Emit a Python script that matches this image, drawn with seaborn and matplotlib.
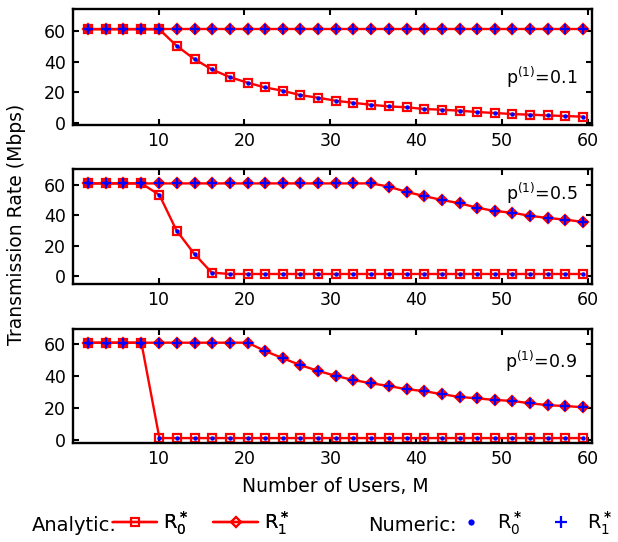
import matplotlib
matplotlib.use("Agg")
import matplotlib.pyplot as plt
from matplotlib.lines import Line2D
import seaborn as sns
import pandas as pd

# ---------------- data ----------------
users_m = [1.8, 3.9, 5.9, 8.0, 10.1, 12.1, 14.2, 16.2, 18.3, 20.4, 22.4, 24.5, 26.5, 28.6, 30.7,
           32.7, 34.8, 36.8, 38.9, 40.9, 43.0, 45.1, 47.1, 49.2, 51.2, 53.3, 55.4, 57.4, 59.5]

p_labels = ["0.1", "0.5", "0.9"]

r0_p01 = [61, 61, 61, 61, 61, 50.3, 41.6, 35.0, 30.0, 26.3, 23.3, 21.1, 18.3, 16.6, 14.6,
          13.3, 12.0, 11.0, 10.4, 9.3, 8.8, 8.2, 7.3, 6.7, 6.0, 5.6, 5.1, 4.7, 4.3]
r1_p01 = [61, 61, 61, 61, 61, 61, 61, 61, 61, 61, 61, 61, 61, 61, 61,
          61, 61, 61, 61, 61, 61, 61, 61, 61, 61, 61, 61, 61, 61]

r0_p05 = [61, 61, 61, 61, 53.4, 29.9, 14.3, 2.2, 1.3, 1.3, 1.3, 1.3, 1.3, 1.3, 1.3,
          1.3, 1.3, 1.3, 1.3, 1.3, 1.3, 1.3, 1.3, 1.3, 1.3, 1.3, 1.3, 1.3, 1.3]
r1_p05 = [61, 61, 61, 61, 61, 61, 61, 61, 61, 61, 61, 61, 61, 61, 61,
          61, 61, 58.9, 55.4, 52.7, 50.1, 47.9, 45.0, 42.8, 41.7, 39.6, 38.2, 37.1, 35.6]

r0_p09 = [61, 61, 61, 61, 1.2, 1.2, 1.2, 1.2, 1.2, 1.2, 1.2, 1.2, 1.2, 1.2, 1.2,
          1.2, 1.2, 1.2, 1.2, 1.2, 1.2, 1.2, 1.2, 1.2, 1.2, 1.2, 1.2, 1.2, 1.2]
r1_p09 = [61, 61, 61, 61, 61, 61, 61, 61, 61, 61, 55.8, 51.2, 47.0, 43.3, 40.1,
          37.6, 35.5, 33.9, 31.8, 30.7, 28.7, 27.0, 26.1, 25.1, 24.5, 23.0, 21.8, 21.3, 20.5]

x_ticks = [10, 20, 30, 40, 50, 60]
y_ticks = [0, 20, 40, 60]

panels = [(r0_p01, r1_p01), (r0_p05, r1_p05), (r0_p09, r1_p09)]

# ---------------- style ----------------
sns.set_theme(style="white")
plt.rcParams["font.family"] = ["DejaVu Sans"]
plt.rcParams["mathtext.fontset"] = "dejavusans"
plt.rcParams["text.color"] = "black"
plt.rcParams["axes.labelcolor"] = "black"
plt.rcParams["xtick.color"] = "black"
plt.rcParams["ytick.color"] = "black"

RED = (1.0, 0.0, 0.0)
BLUE = (0.0, 0.0, 1.0)

fig = plt.figure(figsize=(6.18, 5.42), dpi=100)
W, H = 618.0, 542.0
left, right = 72.7, 592.0
rows = [(9.3, 125.0), (169.3, 284.0), (329.3, 442.7)]
ylims = [(-1.1, 74.0), (-5.3, 70.3), (-1.7, 69.4)]
ann_y = [25.9, 50.1, 45.0]

for i, ((r0, r1), (top, bot)) in enumerate(zip(panels, rows)):
    ax = fig.add_axes([left / W, 1 - bot / H, (right - left) / W, (bot - top) / H])
    df = pd.DataFrame({"M": users_m, "R0": r0, "R1": r1})
    # analytic curves
    sns.lineplot(data=df, x="M", y="R0", ax=ax, color=RED, lw=1.7, marker="s",
                 markersize=6, markerfacecolor="none", markeredgecolor=RED,
                 markeredgewidth=1.6, estimator=None, legend=False, zorder=2)
    ax.lines[-1].set_markerfacecolor("none")
    sns.lineplot(data=df, x="M", y="R1", ax=ax, color=RED, lw=1.7, marker="D",
                 markersize=5.5, markeredgecolor=RED,
                 markeredgewidth=1.6, estimator=None, legend=False, zorder=3)
    ax.lines[-1].set_markerfacecolor((0.8, 0.1, 0.4))
    ax.lines[-1].set_markeredgecolor(RED)
    # numeric points
    sns.lineplot(data=df, x="M", y="R0", ax=ax, color=BLUE, linestyle="", marker="o",
                 markersize=3.2, markeredgewidth=0, estimator=None, legend=False, zorder=4)
    sns.lineplot(data=df, x="M", y="R1", ax=ax, color=BLUE, linestyle="", marker="+",
                 markersize=7, markeredgewidth=1.6, estimator=None, legend=False, zorder=5)
    ax.lines[-1].set_markeredgecolor(BLUE)

    ax.set_xlim(0, 60.5)
    ax.set_ylim(*ylims[i])
    ax.set_xticks(x_ticks)
    ax.set_yticks(y_ticks)
    ax.set_xlabel("")
    ax.set_ylabel("")
    ax.tick_params(direction="in", length=4, width=1.5, labelsize=12.5, pad=5,
                   top=True, right=True, bottom=True, left=True, colors="black")
    for s in ax.spines.values():
        s.set_linewidth(1.7)
        s.set_color("black")
        s.set_visible(True)
    ax.grid(False)
    ax.text(58.8, ann_y[i], r"p$^{(1)}$=" + p_labels[i], ha="right", va="baseline",
            fontsize=12.5, color="black")

fig.text(16.5 / W, 1 - 224 / H, "Transmission Rate (Mbps)", rotation=90,
         ha="center", va="center", fontsize=13.5, color="black")
fig.text(335.5 / W, 1 - 487 / H, "Number of Users, M",
         ha="center", va="center", fontsize=13.5, color="black")

# ---------------- legend ----------------
fs = 14
fig.text(32 / W, 1 - 530.7 / H, "Analytic:", ha="left", va="baseline", fontsize=fs)
fig.text(368 / W, 1 - 530.7 / H, "Numeric:", ha="left", va="baseline", fontsize=fs)

h_sq = Line2D([], [], color=RED, lw=1.7, marker="s", markersize=6,
              markerfacecolor="none", markeredgecolor=RED, markeredgewidth=1.5)
h_di = Line2D([], [], color=RED, lw=1.7, marker="D", markersize=5.5,
              markerfacecolor="none", markeredgecolor=RED, markeredgewidth=1.5)
h_dot = Line2D([], [], color=BLUE, linestyle="", marker="o", markersize=4.5,
               markeredgewidth=0)
h_plus = Line2D([], [], color=BLUE, linestyle="", marker="+", markersize=9,
                markeredgewidth=1.6)

lab0 = r"R$_0^{\bf *}$"
lab1 = r"R$_1^{\bf *}$"
leg1 = fig.legend([h_sq, h_di], [lab0, lab1], loc="center left",
                  bbox_to_anchor=(113 / W, 1 - 523 / H), ncol=2, frameon=False,
                  fontsize=fs, handlelength=2.27, handletextpad=0.31,
                  columnspacing=1.29, borderpad=0, borderaxespad=0)
leg2 = fig.legend([h_dot, h_plus], [lab0, lab1], loc="center left",
                  bbox_to_anchor=(461 / W, 1 - 523 / H), ncol=2, frameon=False,
                  fontsize=fs, handlelength=1.0, handletextpad=0.85,
                  columnspacing=1.5, borderpad=0, borderaxespad=0)
fig.add_artist(leg1)

fig.savefig("out.png", dpi=100)
